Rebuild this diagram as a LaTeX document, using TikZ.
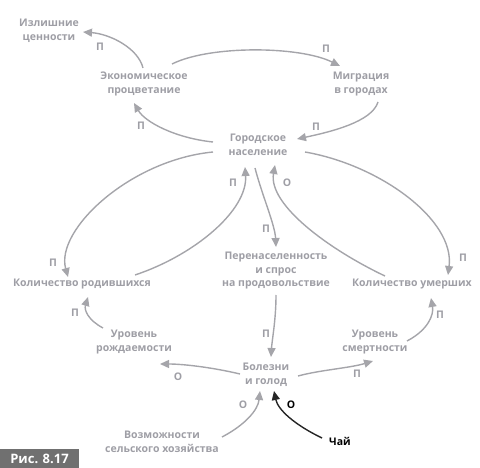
\documentclass[tikz,border=0pt]{standalone}
\usepackage{fontspec}
\setmainfont{Open Sans}
\usetikzlibrary{arrows.meta,calc}
\definecolor{txtgray}{RGB}{158,158,165}
\definecolor{lngray}{RGB}{165,165,170}
\definecolor{risgray}{RGB}{112,112,112}
\tikzset{
  lbl/.style={font=\fontsize{10.5}{13.5}\selectfont\bfseries, text=txtgray, align=center, inner sep=1pt},
  sgn/.style={font=\fontsize{10.5}{11}\selectfont\bfseries, text=txtgray, inner sep=0pt},
  sgnk/.style={font=\fontsize{10.5}{11}\selectfont\bfseries, text=black, inner sep=0pt},
  conn/.style={draw=lngray, line width=1.4pt, -{Triangle[length=9pt,width=8pt]}},
  connk/.style={draw=black!85, line width=1.4pt, -{Triangle[length=9pt,width=8pt]}},
}
\begin{document}
\begin{tikzpicture}[x=1pt,y=-1pt]
\useasboundingbox (0,0) rectangle (480,468);
% nodes
\node[lbl] (izl) at (49,31) {Излишние\\ценности};
\node[lbl] (eco) at (144,84) {Экономическое\\процветание};
\node[lbl] (mig) at (361,84) {Миграция\\в городах};
\node[lbl] (gor) at (258,145) {Городское\\население};
\node[lbl] (per) at (276,271) {Перенаселенность\\и спрос\\на продовольствие};
\node[lbl] (rod) at (82,284) {Количество родившихся};
\node[lbl] (umr) at (412,284) {Количество умерших};
\node[lbl] (urr) at (134,342) {Уровень\\рождаемости};
\node[lbl] (urs) at (375,342) {Уровень\\смертности};
\node[lbl] (bol) at (266,375) {Болезни\\и голод};
\node[lbl] (voz) at (162,442) {Возможности\\сельского хозяйства};
\node[lbl, text=black] (chai) at (340,441) {Чай};
\node[fill=risgray, text=white, font=\fontsize{13}{14}\selectfont\bfseries, minimum width=79pt, minimum height=19pt, inner sep=0pt] (ris) at (39.5,458.5) {Рис. 8.17};
% connectors
\draw[conn] ($(eco)+(-1,-16)$) .. controls (138,48) and (110,34) .. ($(izl)+(34,1)$);
\draw[conn] ($(eco)+(28,-20)$) .. controls (210,45) and (300,46) .. ($(mig)+(-21,-18)$);
\draw[conn] ($(mig)+(17,18)$) .. controls (372,122) and (330,132) .. ($(gor)+(39,-6)$);
\draw[conn] ($(gor)+(-45,-3)$) .. controls (175,138) and (145,122) .. ($(eco)+(-10,19)$);
\draw[conn] ($(rod)+(53,-9)$) .. controls (195,255) and (248,210) .. ($(gor)+(-13,22)$);
\draw[conn] ($(gor)+(-45,7)$) .. controls (130,160) and (55,230) .. ($(rod)+(-14,-7)$);
\draw[conn] ($(gor)+(-3,23)$) .. controls (262,195) and (275,225) .. ($(per)+(0,-24)$);
\draw[conn] ($(umr)+(-27,-8)$) .. controls (330,250) and (268,205) .. ($(gor)+(17,20)$);
\draw[conn] ($(gor)+(47,7)$) .. controls (380,165) and (455,220) .. ($(umr)+(36,-9)$);
\draw[conn] ($(per)+(0,24)$) .. controls (276,320) and (272,340) .. ($(bol)+(5,-18)$);
\draw[conn] ($(bol)+(32,1)$) .. controls (320,370) and (350,368) .. ($(urs)+(-2,19)$);
\draw[conn] ($(urs)+(32,-1)$) .. controls (428,330) and (434,315) .. ($(umr)+(19,14)$);
\draw[conn] ($(bol)+(-26,-1)$) .. controls (215,368) and (185,364) .. ($(urr)+(26,22)$);
\draw[conn] ($(urr)+(-31,-14)$) .. controls (88,320) and (84,310) .. ($(rod)+(6,13)$);
\draw[conn] ($(voz)+(60,-5)$) .. controls (245,425) and (258,410) .. ($(bol)+(-6,16)$);
\draw[connk] ($(chai)+(-18,-3)$) .. controls (295,425) and (278,410) .. ($(bol)+(8,16)$);
% signs
\node[sgn] (s1) at (100,47) {П};
\node[sgn] (s2) at (326,49) {П};
\node[sgn] (s3) at (316,127) {П};
\node[sgn] (s4) at (141,126) {П};
\node[sgn] (s5) at (233,183) {П};
\node[sgn] (s6) at (53,263) {П};
\node[sgn] (s7) at (266,229) {П};
\node[sgn] (s8) at (287,183) {О};
\node[sgn] (s9) at (463,258) {П};
\node[sgn] (s10) at (266,334) {П};
\node[sgn] (s11) at (357,374) {П};
\node[sgn] (s12) at (440,315) {П};
\node[sgn] (s13) at (178,377) {О};
\node[sgn] (s14) at (75,313) {П};
\node[sgn] (s15) at (243,405) {О};
\node[sgnk] (s16) at (291,405) {О};
\end{tikzpicture}
\end{document}
